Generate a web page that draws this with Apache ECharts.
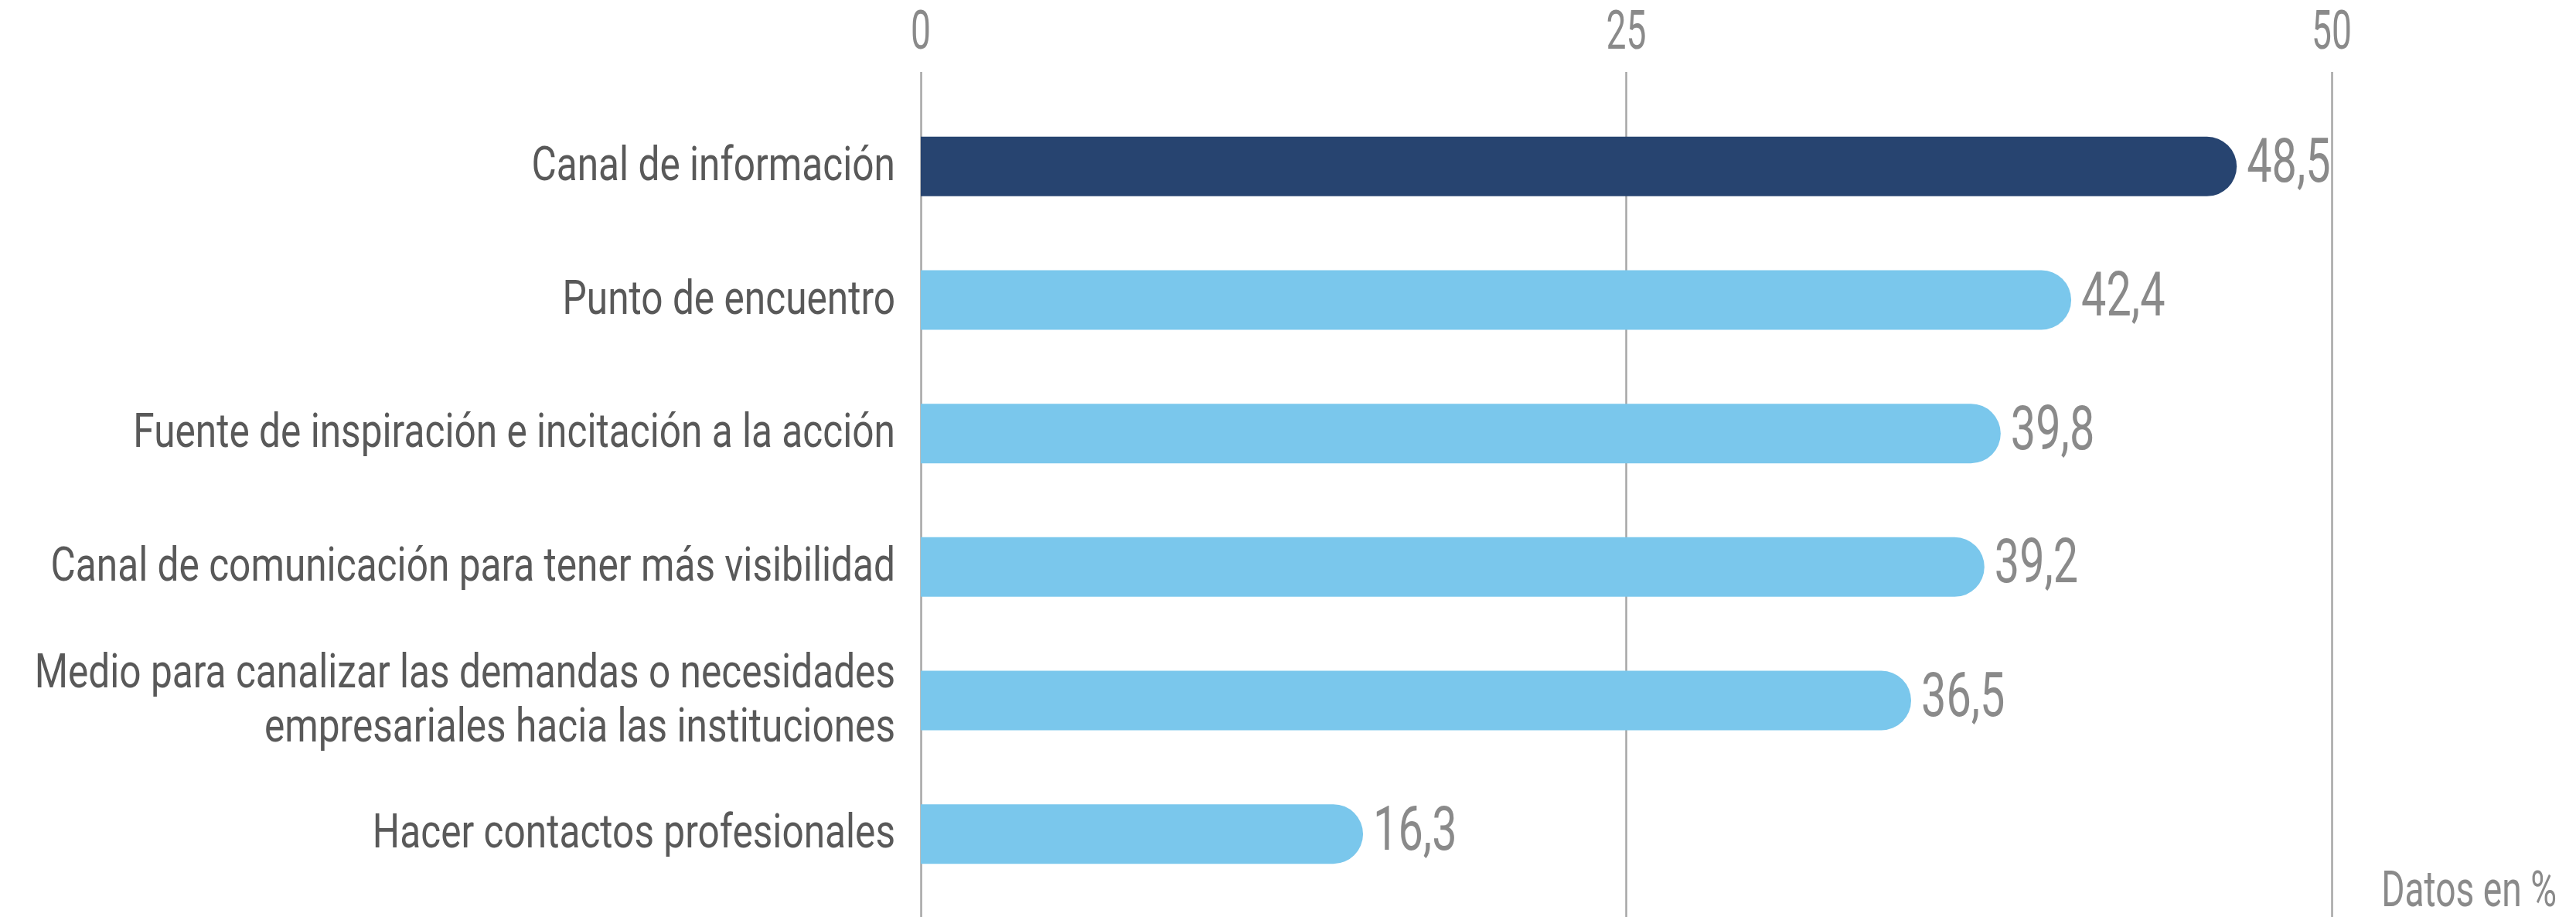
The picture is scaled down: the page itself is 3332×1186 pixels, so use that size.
<!DOCTYPE html>
<html>
<head>
<meta charset="utf-8">
<script src="https://cdn.jsdelivr.net/npm/echarts@6/dist/echarts.min.js"></script>
<style>
  html, body { margin: 0; padding: 0; background: #ffffff; }
  #chart { width: 3332px; height: 1186px; }
</style>
</head>
<body>
<div id="chart"></div>
<script>
// Uses of the business network, percentage of respondents
const categories = [
  'Canal de información',
  'Punto de encuentro',
  'Fuente de inspiración e incitación a la acción',
  'Canal de comunicación para tener más visibilidad',
  'Medio para canalizar las demandas o necesidades\nempresariales hacia las instituciones',
  'Hacer contactos profesionales'
];
const values = [48.5, 42.4, 39.8, 39.2, 36.5, 16.3];
const axisTicks = [0, 25, 50];
const unitLabel = 'Datos en %';

// Narrow type look: a regular sans drawn with a horizontal squeeze
const FONT = "Roboto, 'Liberation Sans', sans-serif";
const NAVY = '#274470';
const SKY = '#7AC7EC';
const GREY_TEXT = '#8a8a8a';
const DARK_TEXT = '#595959';

const fmt = v => String(v).replace('.', ',');

const chart = echarts.init(document.getElementById('chart'), null, { renderer: 'canvas' });

// condensed text element anchored at (x, y)
function narrowText(x, y, text, size, squeeze, color, align, lineHeight) {
  return {
    type: 'text',
    x: x,
    y: y,
    scaleX: squeeze,
    style: {
      text: text,
      fill: color,
      fontFamily: FONT,
      fontSize: size,
      lineHeight: lineHeight || size * 1.1,
      align: align,
      verticalAlign: 'middle'
    }
  };
}

chart.setOption({
  backgroundColor: '#ffffff',
  animation: false,
  grid: [
    // scale with gridlines and tick labels
    { left: 1191, right: 316, top: 93, bottom: 0, outerBoundsMode: 'none', containLabel: false },
    // bar rows
    { left: 1191, right: 316, top: 129, bottom: 21, outerBoundsMode: 'none', containLabel: false }
  ],
  xAxis: [
    {
      gridIndex: 0,
      type: 'value',
      position: 'top',
      min: axisTicks[0],
      max: axisTicks[axisTicks.length - 1],
      interval: axisTicks[1] - axisTicks[0],
      axisLine: { show: false },
      axisTick: { show: false },
      axisLabel: { show: false },
      splitLine: { show: true, lineStyle: { color: '#a6a6a6', width: 2.5 } }
    },
    {
      gridIndex: 1,
      type: 'value',
      min: 0,
      max: 52,
      show: false
    }
  ],
  yAxis: [
    { gridIndex: 0, type: 'value', min: 0, max: 1, show: false },
    {
      gridIndex: 1,
      type: 'category',
      inverse: true,
      data: categories,
      axisLine: { show: false },
      axisTick: { show: false },
      splitLine: { show: false },
      axisLabel: { show: false }
    }
  ],
  series: [
    {
      type: 'bar',
      xAxisIndex: 1,
      yAxisIndex: 1,
      barWidth: 77,
      data: values.map((v, i) => ({
        value: v,
        itemStyle: { color: i === 0 ? NAVY : SKY }
      })),
      itemStyle: { borderRadius: [0, 38.5, 38.5, 0] }
    },
    {
      // category names and value labels for each row
      type: 'custom',
      xAxisIndex: 1,
      yAxisIndex: 1,
      data: values.map((v, i) => [v, i]),
      encode: { x: 0, y: 1 },
      z: 5,
      renderItem: function (params, api) {
        const i = params.dataIndex;
        const v = api.value(0);
        const end = api.coord([v, i]);
        const start = api.coord([0, i]);
        return {
          type: 'group',
          children: [
            narrowText(start[0] - 33, start[1] + 2, categories[i], 62, 0.8, DARK_TEXT, 'right', 70),
            narrowText(end[0] + 13, end[1], fmt(v), 80, 0.72, GREY_TEXT, 'left')
          ]
        };
      }
    },
    {
      // tick labels above the gridlines
      type: 'custom',
      xAxisIndex: 0,
      yAxisIndex: 0,
      data: axisTicks.map(t => [t, 1]),
      encode: { x: 0, y: 1 },
      z: 5,
      renderItem: function (params, api) {
        const p = api.coord([api.value(0), 1]);
        return narrowText(p[0], p[1] - 48, String(api.value(0)), 70, 0.66, GREY_TEXT, 'center');
      }
    }
  ],
  graphic: [
    narrowText(3307, 1156, unitLabel, 65, 0.71, GREY_TEXT, 'right')
  ]
});
</script>
</body>
</html>
